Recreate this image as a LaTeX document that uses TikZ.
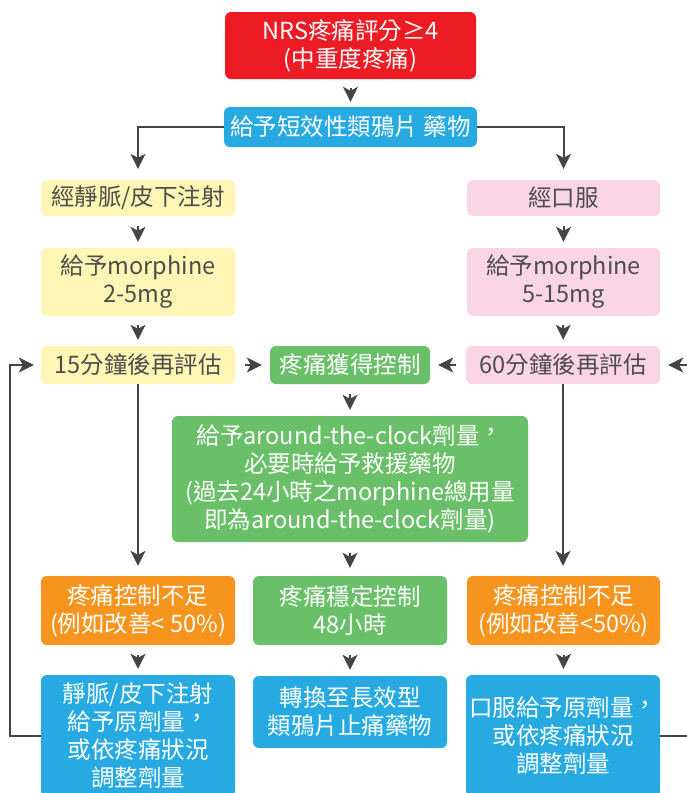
\documentclass[tikz,border=0pt]{standalone}
\usepackage{fontspec}
\setmainfont{Noto Sans CJK TC}[Script=CJK,Language=Chinese Traditional]
\usetikzlibrary{arrows.meta}
\definecolor{cred}{HTML}{ED1C24}
\definecolor{cblue}{HTML}{27AAE1}
\definecolor{cyel}{HTML}{FFF6B5}
\definecolor{cpink}{HTML}{FAD5E5}
\definecolor{cgreen}{HTML}{6ABF69}
\definecolor{corange}{HTML}{F7941E}
\definecolor{ctext}{HTML}{4D4D4D}
\definecolor{carrow}{HTML}{444444}
\newcommand\tccomma{\smash{\raisebox{0.17em}{，}}}
\begin{document}
\begin{tikzpicture}[x=1pt,y=-1pt,
  box/.style={rounded corners=6pt, inner sep=0pt, align=center,
    font=\fontsize{23.5}{28}\selectfont},
  redbox/.style={box, fill=cred, text=white},
  bluebox/.style={box, fill=cblue, text=white},
  yelbox/.style={box, fill=cyel, text=ctext},
  pinkbox/.style={box, fill=cpink, text=ctext},
  greenbox/.style={box, fill=cgreen, text=white},
  orangebox/.style={box, fill=corange, text=white},
  arr/.style={draw=carrow, line width=2pt,
    -{Stealth[length=15pt,width=15pt,inset=4pt]}},
  harr/.style={arr, shorten <=10pt, shorten >=8pt}
]
\useasboundingbox (0,0) rectangle (687,793);
\clip (0,0) rectangle (687,793);

% nodes
\node[redbox, minimum width=251pt, minimum height=67pt] (nrs) at (350.5,45.5)
  {NRS疼痛評分≥4\\(中重度疼痛)};
\node[bluebox, minimum width=253pt, minimum height=40pt] (short) at (350.5,127)
  {給予短效性類鴉片 藥物};
\node[yelbox, minimum width=194pt, minimum height=36pt] (iv) at (138,198)
  {經靜脈/皮下注射};
\node[pinkbox, minimum width=193pt, minimum height=36pt] (po) at (563.5,198)
  {經口服};
\node[yelbox, minimum width=194pt, minimum height=68pt] (ivdose) at (138,282)
  {給予morphine\\2-5mg};
\node[pinkbox, minimum width=193pt, minimum height=68pt] (podose) at (563.5,282)
  {給予morphine\\5-15mg};
\node[yelbox, minimum width=194pt, minimum height=38pt] (iveval) at (138,365)
  {15分鐘後再評估};
\node[greenbox, minimum width=160pt, minimum height=38pt] (ctrl) at (350,365)
  {疼痛獲得控制};
\node[pinkbox, minimum width=194pt, minimum height=38pt] (poeval) at (563,365)
  {60分鐘後再評估};
\node[greenbox, minimum width=356pt, minimum height=126pt] (atc) at (350,479)
  {給予around-the-clock劑量\tccomma\\必要時給予救援藥物\\(過去24小時之morphine總用量\\即為around-the-clock劑量)};
\node[orangebox, minimum width=194pt, minimum height=69pt] (ivpoor) at (138,610.5)
  {疼痛控制不足\\(例如改善< 50\%)};
\node[greenbox, minimum width=194pt, minimum height=69pt] (stable) at (350,610.5)
  {疼痛穩定控制\\48小時};
\node[orangebox, minimum width=193pt, minimum height=69pt] (popoor) at (563.5,610.5)
  {疼痛控制不足\\(例如改善<50\%)};
\node[bluebox, minimum width=194pt, minimum height=122pt] (ivadj) at (138,736)
  {靜脈/皮下注射\\給予原劑量\tccomma\\或依疼痛狀況\\調整劑量};
\node[bluebox, minimum width=194pt, minimum height=72pt] (longact) at (350,712)
  {轉換至長效型\\類鴉片止痛藥物};
\node[bluebox, minimum width=194pt, minimum height=122pt] (poadj) at (563,736)
  {口服給予原劑量\tccomma\\或依疼痛狀況\\調整劑量};

% connectors
\coordinate (lcorner) at (10,736);
\coordinate (lup) at (10,365);
\coordinate (rcorner) at (700,736);
\coordinate (rup) at (700,365);

\draw[arr, shorten <=9pt, shorten >=5pt] (nrs) -- (short);
\draw[arr, shorten >=11pt] (short.west) -| (iv.north);
\draw[arr, shorten >=11pt] (short.east) -| (po.north);
\draw[arr, shorten <=10pt, shorten >=6pt] (iv) -- (ivdose);
\draw[arr, shorten <=10pt, shorten >=6pt] (po) -- (podose);
\draw[arr, shorten <=9pt, shorten >=6pt] (ivdose) -- (iveval);
\draw[arr, shorten <=9pt, shorten >=6pt] (podose) -- (poeval);
\draw[harr] (iveval) -- (ctrl);
\draw[harr] (poeval) -- (ctrl);
\draw[arr, shorten <=10pt, shorten >=6pt] (ctrl) -- (atc);
\draw[arr, shorten <=11pt, shorten >=8pt] (atc) -- (stable);
\draw[arr, shorten <=10pt, shorten >=6pt] (stable) -- (longact);
\draw[arr, shorten >=10pt] (iveval) -- (ivpoor);
\draw[arr, shorten >=10pt] (poeval.south) -- (poeval.south |- popoor.north);
\draw[arr, shorten <=10pt, shorten >=6pt] (ivpoor) -- (ivadj);
\draw[arr, shorten <=10pt, shorten >=6pt] (popoor.south) -- (popoor.south |- poadj.north);
\draw[arr, shorten >=7pt] (ivadj.west) -- (lcorner) -- (lup) -- (iveval.west);
\draw[arr, shorten >=8pt] (poadj.east) -- (rcorner) -- (rup) -- (poeval.east);
\end{tikzpicture}
\end{document}
